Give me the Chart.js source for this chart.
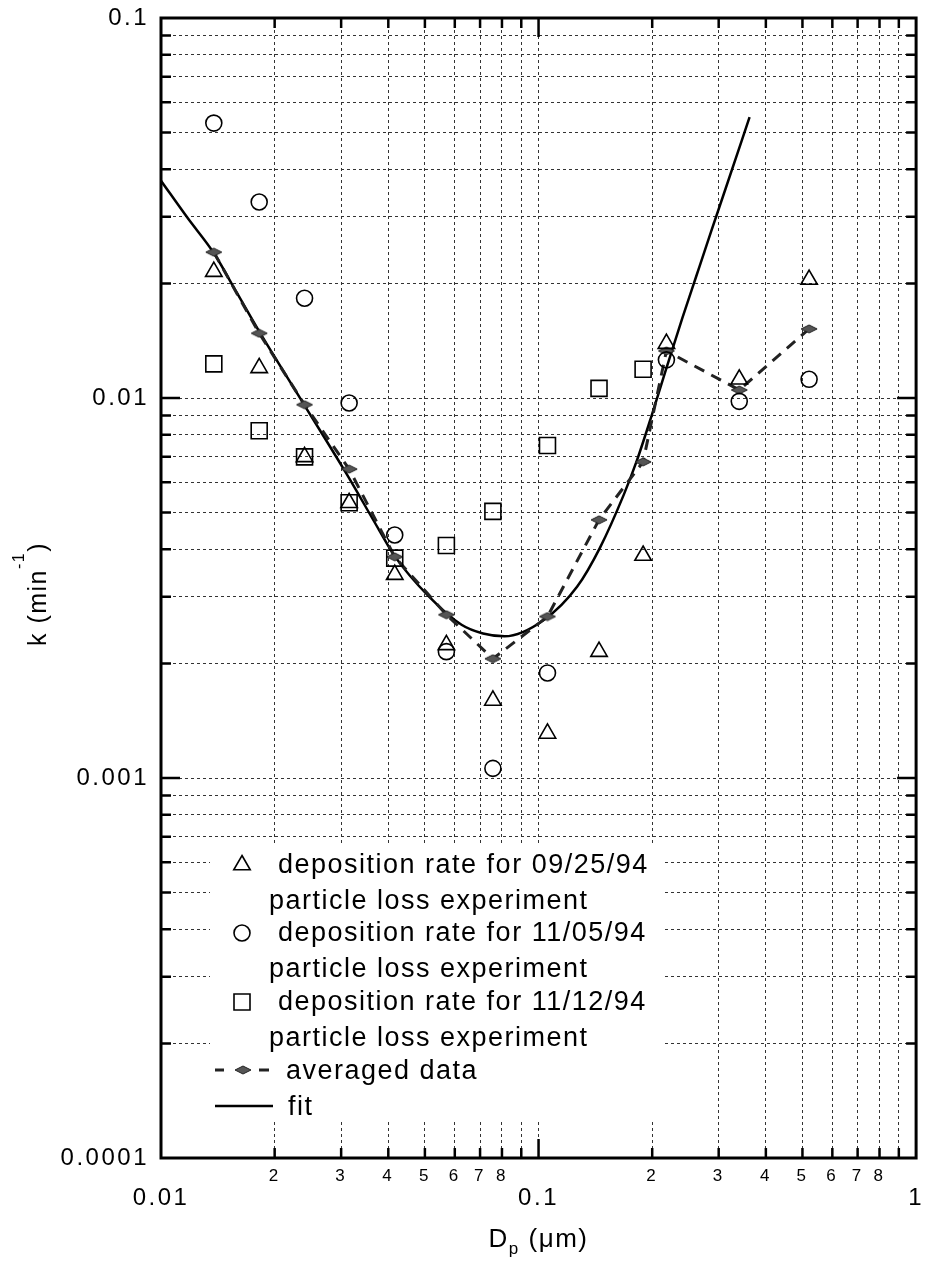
<!DOCTYPE html>
<html>
<head>
<meta charset="utf-8">
<title>Deposition rate vs particle size</title>
<script src="https://cdn.jsdelivr.net/npm/chart.js@4.4.1/dist/chart.umd.min.js"></script>
<style>
  html, body { margin: 0; padding: 0; background: #fff; }
  canvas { display: block; }
</style>
</head>
<body>
<canvas id="myChart" width="929" height="1262"></canvas>
<script>
// particle diameter bins (um) and deposition rates k (1/min)
var diameters = [0.0138, 0.0182, 0.0240, 0.0315, 0.0416, 0.0570, 0.0757, 0.1056, 0.1446, 0.1892, 0.2181, 0.3401, 0.5207];
var rate092594 = [0.0215, 0.0120, 0.0070, 0.0053, 0.00343, 0.00224, 0.00160, 0.00131, 0.00215, 0.00385, 0.0139, 0.0112, 0.0205];
var rate110594 = [0.0529, 0.0328, 0.0183, 0.0097, 0.00436, 0.00215, 0.00106, 0.00189, null, null, 0.0126, 0.0098, 0.0112];
var rate111294 = [0.0123, 0.0082, 0.0070, 0.0053, 0.00379, 0.00409, 0.00503, 0.0075, 0.0106, 0.0119, null, null, null];
var averagedRate = [0.0242, 0.0148, 0.0096, 0.0065, 0.00382, 0.00269, 0.00206, 0.00266, 0.00478, 0.00679, 0.0133, 0.0105, 0.0152];

// fit curve
var fitDiameters = [0.01, 0.01178, 0.0138, 0.01592, 0.0183, 0.02388, 0.0309, 0.03779, 0.04163, 0.05113, 0.06252, 0.07127, 0.08128, 0.1035, 0.1266, 0.1455, 0.1681, 0.1819, 0.1991, 0.2181, 0.2402, 0.2615, 0.2861, 0.3133, 0.3622];
var fitRate = [0.0373, 0.0297, 0.02407, 0.01884, 0.01483, 0.00964, 0.00635, 0.0045, 0.00383, 0.00301, 0.00253, 0.0024, 0.00236, 0.00261, 0.00319, 0.00404, 0.00556, 0.00682, 0.00896, 0.01199, 0.01619, 0.02088, 0.02731, 0.0357, 0.05482];

// axis tick labels
var xMajorLabels = ['0.01', '0.1', '1'];
var xMinorLabels = ['2', '3', '4', '5', '6', '7', '8', ''];
var yMajorLabels = ['0.0001', '0.001', '0.01', '0.1'];

var legendLabels = [
  ['deposition rate for 09/25/94', 'particle loss experiment'],
  ['deposition rate for 11/05/94', 'particle loss experiment'],
  ['deposition rate for 11/12/94', 'particle loss experiment'],
  ['averaged data'],
  ['fit']
];

var FONT = '"Liberation Sans", Arial, Helvetica, sans-serif';

function pairs(xs, ys) {
  var out = [];
  for (var i = 0; i < xs.length; i++) {
    if (ys[i] !== null) out.push({ x: xs[i], y: ys[i] });
  }
  return out;
}

// 1..9 ticks in every decade
function decadeTicks(majors) {
  var out = [];
  majors.forEach(function (m, i) {
    var v = parseFloat(m);
    out.push({ value: v, major: true });
    if (i < majors.length - 1) {
      for (var k = 2; k <= 9; k++) out.push({ value: parseFloat((v * k).toPrecision(3)), major: false });
    }
  });
  return out;
}

function mantissa(v) {
  var e = Math.floor(Math.log10(v) + 1e-9);
  return Math.round(v / Math.pow(10, e));
}

// flat diamond used for the averaged data
function diamondMark() {
  var c = document.createElement('canvas');
  c.width = 18; c.height = 10;
  var g = c.getContext('2d');
  g.beginPath();
  g.moveTo(1, 5); g.lineTo(9, 1); g.lineTo(17, 5); g.lineTo(9, 9);
  g.closePath();
  g.fillStyle = '#555';
  g.fill();
  g.strokeStyle = '#222';
  g.lineWidth = 1;
  g.stroke();
  return c;
}
var diamond = diamondMark();

function drawMarker(ctx, style, x, y) {
  ctx.save();
  ctx.strokeStyle = '#000';
  ctx.lineWidth = 1.6;
  ctx.beginPath();
  if (style === 'circle') {
    ctx.arc(x, y, 8, 0, Math.PI * 2);
  } else if (style === 'rect') {
    ctx.rect(x - 8, y - 8, 16, 16);
  } else {
    var r = 9.5, a = 0;
    ctx.moveTo(x + Math.sin(a) * r, y - Math.cos(a) * r);
    a += Math.PI * 2 / 3;
    ctx.lineTo(x + Math.sin(a) * r, y - Math.cos(a) * r);
    a += Math.PI * 2 / 3;
    ctx.lineTo(x + Math.sin(a) * r, y - Math.cos(a) * r);
    ctx.closePath();
  }
  ctx.stroke();
  ctx.restore();
}

// text with sub/superscript pieces
function drawPieces(ctx, pieces, x, y) {
  var w = 0;
  pieces.forEach(function (p) {
    ctx.font = p.size + 'px ' + FONT;
    p.w = ctx.measureText(p.text).width;
    w += p.w;
  });
  var cx = x - w / 2;
  pieces.forEach(function (p) {
    ctx.font = p.size + 'px ' + FONT;
    ctx.fillText(p.text, cx, y + (p.dy || 0));
    cx += p.w;
  });
}

var framePlugin = {
  id: 'framePlugin',
  beforeDraw: function (chart) {
    chart.ctx.letterSpacing = '2.5px';
  },
  afterDatasetsDraw: function (chart) {
    var ctx = chart.ctx, a = chart.chartArea;
    var xs = chart.scales.x, ys = chart.scales.y;
    ctx.save();
    ctx.strokeStyle = '#000';
    ctx.lineWidth = 2.5;
    ctx.beginPath();
    xs.ticks.forEach(function (t) {
      var px = xs.getPixelForValue(t.value);
      if (px <= a.left + 1 || px >= a.right - 1) return;
      var len = t.major ? 19 : 10;
      ctx.moveTo(px, a.bottom); ctx.lineTo(px, a.bottom - len);
      ctx.moveTo(px, a.top); ctx.lineTo(px, a.top + len);
    });
    ys.ticks.forEach(function (t) {
      var py = ys.getPixelForValue(t.value);
      if (py <= a.top + 1 || py >= a.bottom - 1) return;
      var len = t.major ? 19 : 10;
      ctx.moveTo(a.left, py); ctx.lineTo(a.left + len, py);
      ctx.moveTo(a.right, py); ctx.lineTo(a.right - len, py);
    });
    ctx.stroke();
    ctx.lineWidth = 3;
    ctx.strokeRect(a.left, a.top, a.right - a.left, a.bottom - a.top);
    ctx.restore();
  },
  afterDraw: function (chart) {
    var ctx = chart.ctx, a = chart.chartArea;
    var ds = chart.data.datasets;
    ctx.save();
    ctx.letterSpacing = '1.5px';
    ctx.fillStyle = '#fff';
    ctx.fillRect(a.left + 49, 845, 452, 277);

    ctx.fillStyle = '#000';
    ctx.textAlign = 'left';
    ctx.textBaseline = 'alphabetic';
    ctx.font = '27px ' + FONT;
    var rows = [865, 933, 1002];
    for (var i = 0; i < 3; i++) {
      drawMarker(ctx, ds[i].pointStyle, a.left + 81, rows[i]);
      ctx.fillText(legendLabels[i][0], a.left + 117, rows[i] + 8);
      ctx.fillText(legendLabels[i][1], a.left + 108, rows[i] + 44);
    }
    // averaged data
    ctx.strokeStyle = '#222';
    ctx.lineWidth = 3;
    ctx.beginPath();
    ctx.moveTo(a.left + 54, 1070); ctx.lineTo(a.left + 63, 1070);
    ctx.moveTo(a.left + 98, 1070); ctx.lineTo(a.left + 108, 1070);
    ctx.stroke();
    ctx.drawImage(diamond, a.left + 82 - diamond.width / 2, 1070 - diamond.height / 2);
    ctx.fillText(legendLabels[3][0], a.left + 125, 1079);
    // fit
    ctx.strokeStyle = '#000';
    ctx.lineWidth = 2.5;
    ctx.beginPath();
    ctx.moveTo(a.left + 54, 1106); ctx.lineTo(a.left + 112, 1106);
    ctx.stroke();
    ctx.fillText(legendLabels[4][0], a.left + 127, 1115);

    // axis titles
    drawPieces(ctx, [
      { text: 'D', size: 26 },
      { text: 'p', size: 17, dy: 7 },
      { text: ' (\u03bcm)', size: 26 }
    ], (a.left + a.right) / 2, 1247);

    ctx.translate(46, (a.top + a.bottom) / 2 + 6);
    ctx.rotate(-Math.PI / 2);
    drawPieces(ctx, [
      { text: 'k (min', size: 25 },
      { text: '-1', size: 16, dy: -22 },
      { text: ')', size: 25 }
    ], 0, 0);
    ctx.restore();
  }
};

var ctx = document.getElementById('myChart').getContext('2d');
var chart = new Chart(ctx, {
  type: 'scatter',
  data: {
    datasets: [{
      label: 'deposition rate for 09/25/94 particle loss experiment',
      data: pairs(diameters, rate092594),
      pointStyle: 'triangle',
      pointRadius: 9.5,
      pointBorderWidth: 1.6,
      pointBorderColor: '#000',
      pointBackgroundColor: 'rgba(0,0,0,0)'
    }, {
      label: 'deposition rate for 11/05/94 particle loss experiment',
      data: pairs(diameters, rate110594),
      pointStyle: 'circle',
      pointRadius: 8,
      pointBorderWidth: 1.6,
      pointBorderColor: '#000',
      pointBackgroundColor: 'rgba(0,0,0,0)'
    }, {
      label: 'deposition rate for 11/12/94 particle loss experiment',
      data: pairs(diameters, rate111294),
      pointStyle: 'rect',
      pointRadius: 11.3,
      pointBorderWidth: 1.6,
      pointBorderColor: '#000',
      pointBackgroundColor: 'rgba(0,0,0,0)'
    }, {
      label: 'averaged data',
      data: pairs(diameters, averagedRate),
      showLine: true,
      borderColor: '#222',
      borderWidth: 3,
      borderDash: [11, 8],
      pointStyle: diamond,
      pointRadius: 8
    }, {
      label: 'fit',
      data: pairs(fitDiameters, fitRate),
      showLine: true,
      borderColor: '#000',
      borderWidth: 2.5,
      cubicInterpolationMode: 'monotone',
      pointRadius: 0
    }]
  },
  options: {
    responsive: false,
    animation: false,
    layout: { padding: { top: 18, right: 7, left: 0, bottom: 0 } },
    plugins: {
      legend: { display: false },
      tooltip: { enabled: false }
    },
    scales: {
      x: {
        type: 'logarithmic',
        position: 'bottom',
        min: 0.01,
        max: 1,
        afterBuildTicks: function (scale) { scale.ticks = decadeTicks(xMajorLabels); },
        afterFit: function (scale) { scale.height = 104; scale.paddingLeft = 0; scale.paddingRight = 0; },
        grid: { color: '#333', lineWidth: 1, drawTicks: false },
        border: { display: false, dash: [3, 3] },
        ticks: {
          autoSkip: false,
          maxRotation: 0,
          minRotation: 0,
          padding: 9,
          color: '#000',
          font: function (c) {
            if (c.tick && c.tick.major) return { family: FONT, size: 24, lineHeight: '21px' };
            return { family: FONT, size: 17, lineHeight: '19px' };
          },
          callback: function (value) {
            var m = mantissa(value);
            if (m === 1) return ['', xMajorLabels[Math.round(Math.log10(value)) + 2]];
            return xMinorLabels[m - 2];
          }
        }
      },
      y: {
        type: 'logarithmic',
        position: 'left',
        min: 0.0001,
        max: 0.1,
        afterBuildTicks: function (scale) { scale.ticks = decadeTicks(yMajorLabels); },
        afterFit: function (scale) { scale.width = 161; scale.paddingTop = 0; scale.paddingBottom = 0; },
        grid: { color: '#333', lineWidth: 1, drawTicks: false },
        border: { display: false, dash: [3, 3] },
        ticks: {
          autoSkip: false,
          padding: 12,
          color: '#000',
          font: { family: FONT, size: 24 },
          callback: function (value) {
            if (mantissa(value) !== 1) return '';
            return yMajorLabels[Math.round(Math.log10(value)) + 4];
          }
        }
      }
    }
  },
  plugins: [framePlugin]
});
</script>
</body>
</html>
